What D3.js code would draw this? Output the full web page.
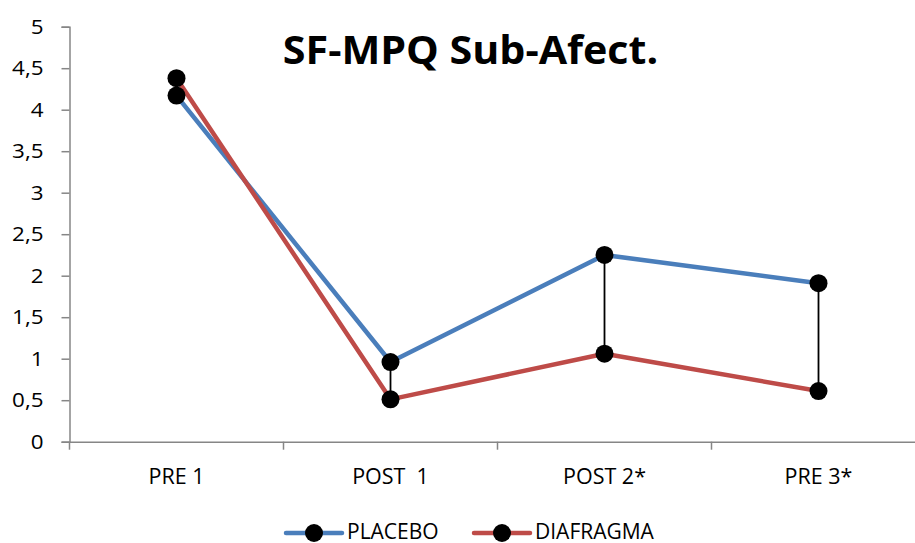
<!DOCTYPE html>
<html>
<head>
<meta charset="utf-8">
<script src="https://cdn.jsdelivr.net/npm/d3@7"></script>
<style>
  html, body { margin: 0; padding: 0; background: #fff; }
  svg { display: block; }
  text { font-family: "Open Sans", Lato, sans-serif; fill: #000; }
</style>
</head>
<body>
<script>
// SF-MPQ affective sub-scale: mean scores per assessment
const categories = ["PRE 1", "POST  1", "POST 2*", "PRE 3*"];
const placebo    = [4.17, 0.96, 2.25, 1.91];
const diafragma  = [4.38, 0.51, 1.06, 0.61];
const yTicks     = [0, 0.5, 1, 1.5, 2, 2.5, 3, 3.5, 4, 4.5, 5];
const seriesNames = ["PLACEBO", "DIAFRAGMA"];
const seriesColors = ["#4a7ebb", "#be4b48"];

const W = 915, H = 543;
const svg = d3.select("body").append("svg").attr("width", W).attr("height", H);

const x = d3.scaleBand().domain(categories).range([69.5, 925.5]).padding(0);
const y = d3.scaleLinear().domain([0, 5]).range([441.7, 26.7]);
const cx = c => x(c) + x.bandwidth() / 2;
const fmt = v => String(v).replace(".", ",");
const SX = 1.12; // horizontal stretch for tick numerals

// Y axis
const yAxis = svg.append("g").attr("transform", "translate(69.5,0)")
  .call(d3.axisLeft(y).tickValues(yTicks).tickSize(8).tickPadding(18).tickFormat(fmt));
yAxis.select(".domain").attr("stroke", "#868686").attr("stroke-width", 1.5);
yAxis.selectAll(".tick line").attr("stroke", "#868686").attr("stroke-width", 1.5);
yAxis.selectAll(".tick text").attr("font-size", 20).attr("font-family", "Open Sans")
  .attr("fill", "#000")
  .attr("transform", `scale(${SX},1)`)
  .attr("x", -26 / SX);

// X axis
const xAxis = svg.append("g").attr("transform", "translate(0,441.7)")
  .call(d3.axisBottom(x).tickSize(0).tickPadding(0).tickFormat(() => ""));
xAxis.select(".domain").attr("stroke", "#868686").attr("stroke-width", 1.5);
xAxis.selectAll(".boundary").data(categories).enter().append("line")
  .attr("x1", d => x(d)).attr("x2", d => x(d))
  .attr("y1", 0).attr("y2", 8)
  .attr("stroke", "#868686").attr("stroke-width", 1.5);
xAxis.selectAll(".xlab").data(categories).enter().append("text")
  .attr("transform", d => `translate(${cx(d)},42.5)`)
  .attr("text-anchor", "middle")
  .attr("font-size", 21.5)
  .style("white-space", "pre")
  .text(d => d);

// High-low connectors
svg.append("g").selectAll("line").data(categories).enter().append("line")
  .attr("x1", cx).attr("x2", cx)
  .attr("y1", (d, i) => y(placebo[i]))
  .attr("y2", (d, i) => y(diafragma[i]))
  .attr("stroke", "#000").attr("stroke-width", 1.8);

// Series lines
const series = [placebo, diafragma];
const line = d3.line().x((d, i) => cx(categories[i])).y(d => y(d));
series.forEach((s, k) => {
  svg.append("path").datum(s).attr("d", line)
    .attr("fill", "none").attr("stroke", seriesColors[k])
    .attr("stroke-width", 4.5).attr("stroke-linejoin", "round");
});
series.forEach((s, k) => {
  svg.append("g").selectAll("circle").data(s).enter().append("circle")
    .attr("cx", (d, i) => cx(categories[i])).attr("cy", d => y(d))
    .attr("r", 9).attr("fill", "#000");
});

// Title
svg.append("text")
  .attr("transform", "translate(470.5,64) scale(1.03,1)")
  .attr("text-anchor", "middle")
  .attr("font-size", 40).attr("font-weight", "bold")
  .text("SF-MPQ Sub-Afect.");

// Legend
const legendStarts = [286, 474];
const lg = svg.append("g");
seriesNames.forEach((name, k) => {
  const g = lg.append("g").attr("transform", `translate(${legendStarts[k]},533)`);
  g.append("line").attr("x1", 0).attr("x2", 56).attr("y1", 0).attr("y2", 0)
    .attr("stroke", seriesColors[k]).attr("stroke-width", 4.5).attr("stroke-linecap", "round");
  g.append("circle").attr("cx", 28).attr("cy", 0).attr("r", 9).attr("fill", "#000");
  g.append("text").attr("transform", "translate(61,6)")
    .attr("font-size", 21).text(name);
});
</script>
</body>
</html>
